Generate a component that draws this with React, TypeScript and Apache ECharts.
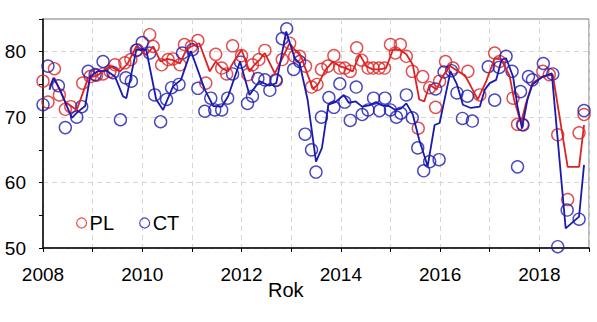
import React, { useEffect, useRef } from "react";
import * as echarts from "echarts";

// Monthly observations (decimal year, value)
const plPoints: [number, number][] = [
  [2008.0, 75.5], [2008.1, 72.3], [2008.23, 77.4], [2008.33, 73.4], [2008.45, 71.2], [2008.56, 71.6],
  [2008.8, 75.2], [2008.95, 76.2], [2009.08, 76.4], [2009.21, 76.6], [2009.35, 77.0], [2009.45, 78.0],
  [2009.65, 78.3], [2009.77, 78.8], [2009.9, 80.3], [2010.15, 82.6], [2010.22, 80.8], [2010.39, 78.0],
  [2010.52, 78.8], [2010.62, 78.9], [2010.76, 78.0], [2010.85, 81.1], [2010.99, 80.8], [2011.12, 81.7],
  [2011.28, 75.2], [2011.48, 79.6], [2011.6, 77.5], [2011.7, 76.6], [2011.82, 80.9], [2012.0, 79.4],
  [2012.13, 76.5], [2012.22, 78.0], [2012.35, 78.8], [2012.47, 80.2], [2012.69, 75.7], [2012.82, 78.8],
  [2012.97, 81.3], [2013.07, 79.3], [2013.17, 79.3], [2013.29, 77.8], [2013.41, 74.6], [2013.52, 75.0],
  [2013.61, 77.3], [2013.74, 77.8], [2013.86, 79.4], [2013.98, 77.5], [2014.08, 77.5], [2014.19, 77.0],
  [2014.32, 80.6], [2014.42, 78.7], [2014.55, 77.5], [2014.65, 77.5], [2014.77, 77.5], [2014.88, 77.5],
  [2015.0, 81.1], [2015.1, 79.8], [2015.2, 81.1], [2015.32, 79.3], [2015.44, 77.0], [2015.56, 68.3],
  [2015.65, 76.2], [2015.79, 74.5], [2015.91, 71.5], [2015.99, 75.5], [2016.11, 78.5], [2016.26, 77.5],
  [2016.56, 77.0], [2016.8, 73.4], [2017.1, 79.8], [2017.2, 78.5], [2017.47, 72.9], [2017.56, 68.9],
  [2017.66, 68.9], [2018.07, 77.0], [2018.2, 76.5], [2018.37, 67.3], [2018.57, 57.4], [2018.8, 67.6],
  [2018.9, 70.4],
];

const ctPoints: [number, number][] = [
  [2008.0, 71.9], [2008.1, 77.8], [2008.31, 74.8], [2008.45, 68.4], [2008.68, 70.0], [2008.78, 71.6],
  [2008.91, 77.0], [2009.05, 76.5], [2009.21, 78.5], [2009.41, 76.8], [2009.56, 69.6], [2009.67, 76.0],
  [2009.78, 75.5], [2009.88, 80.2], [2010.0, 81.4], [2010.15, 79.8], [2010.25, 73.4], [2010.37, 69.3],
  [2010.49, 72.7], [2010.59, 74.5], [2010.74, 75.0], [2010.81, 79.8], [2011.01, 80.3], [2011.12, 74.4],
  [2011.26, 70.9], [2011.38, 72.9], [2011.46, 71.1], [2011.6, 71.1], [2011.72, 72.9], [2011.82, 76.6],
  [2011.98, 78.4], [2012.12, 72.1], [2012.22, 73.2], [2012.33, 75.9], [2012.47, 75.7], [2012.57, 74.1],
  [2012.7, 75.6], [2012.82, 82.0], [2012.91, 83.5], [2013.05, 77.3], [2013.17, 78.5], [2013.28, 67.4],
  [2013.41, 65.0], [2013.5, 61.6], [2013.61, 70.0], [2013.76, 73.0], [2013.86, 71.5], [2013.98, 75.1],
  [2014.08, 72.3], [2014.19, 69.5], [2014.31, 74.6], [2014.43, 70.4], [2014.55, 71.1], [2014.66, 72.9],
  [2014.78, 71.0], [2014.89, 72.9], [2015.0, 71.1], [2015.12, 70.0], [2015.21, 70.6], [2015.32, 73.4],
  [2015.44, 69.9], [2015.55, 65.3], [2015.67, 61.8], [2015.79, 63.2], [2015.91, 74.3], [2015.98, 63.5],
  [2016.08, 76.9], [2016.23, 77.1], [2016.34, 73.7], [2016.45, 69.8], [2016.55, 73.2], [2016.65, 69.4],
  [2016.97, 77.7], [2017.1, 72.6], [2017.19, 77.6], [2017.33, 79.3], [2017.45, 77.0], [2017.56, 62.4],
  [2017.62, 73.9], [2017.67, 68.8], [2017.78, 76.2], [2017.86, 75.7], [2018.08, 78.2], [2018.27, 76.6],
  [2018.37, 50.2], [2018.56, 55.8], [2018.8, 54.4], [2018.9, 71.0],
];

// Smoothed trend lines (decimal year, value)
const plTrend: [number, number][] = [
  [2008.13, 74.7], [2008.23, 76.0], [2008.45, 72.3], [2008.68, 71.1], [2008.91, 76.0], [2009.1, 76.4],
  [2009.35, 77.8], [2009.55, 77.0], [2009.7, 78.1], [2009.88, 80.8], [2010.08, 79.5], [2010.22, 80.8],
  [2010.37, 78.5], [2010.5, 78.9], [2010.62, 78.7], [2010.76, 78.2], [2010.9, 80.5], [2010.99, 80.8],
  [2011.15, 81.3], [2011.36, 77.0], [2011.48, 78.5], [2011.6, 77.5], [2011.73, 77.0], [2011.83, 78.3],
  [2012.0, 80.3], [2012.16, 77.0], [2012.26, 78.0], [2012.37, 78.8], [2012.47, 79.8], [2012.67, 76.7],
  [2012.82, 79.0], [2012.97, 81.3], [2013.07, 80.3], [2013.2, 79.3], [2013.33, 76.5], [2013.44, 74.3],
  [2013.54, 75.0], [2013.7, 77.3], [2013.84, 78.5], [2013.97, 77.8], [2014.1, 77.5], [2014.24, 77.0],
  [2014.38, 79.6], [2014.51, 77.8], [2014.64, 77.3], [2014.78, 77.3], [2014.91, 77.5], [2015.05, 80.3],
  [2015.18, 80.3], [2015.32, 79.6], [2015.45, 78.0], [2015.58, 72.7], [2015.68, 72.4], [2015.79, 75.0],
  [2015.93, 74.2], [2016.03, 76.0], [2016.2, 77.8], [2016.36, 77.0], [2016.5, 76.4], [2016.62, 74.7],
  [2016.76, 72.7], [2016.93, 75.5], [2017.1, 79.0], [2017.24, 78.8], [2017.4, 76.3], [2017.49, 72.7],
  [2017.63, 69.1], [2017.73, 72.1], [2017.86, 75.2], [2018.07, 76.2], [2018.27, 76.5], [2018.57, 62.4],
  [2018.8, 62.4], [2018.9, 68.8],
];

const ctTrend: [number, number][] = [
  [2008.13, 74.2], [2008.21, 76.0], [2008.34, 74.2], [2008.58, 69.9], [2008.7, 70.8], [2008.85, 71.7],
  [2008.95, 76.2], [2009.1, 77.0], [2009.28, 77.1], [2009.45, 76.2], [2009.61, 73.2], [2009.68, 72.9],
  [2009.88, 80.3], [2010.08, 80.3], [2010.28, 72.7], [2010.42, 71.1], [2010.62, 74.7], [2010.78, 75.7],
  [2010.98, 80.1], [2011.26, 74.2], [2011.43, 71.7], [2011.6, 71.6], [2011.73, 73.2], [2011.97, 78.5],
  [2012.16, 73.4], [2012.36, 75.5], [2012.56, 74.8], [2012.7, 75.2], [2012.9, 83.1], [2013.07, 79.0],
  [2013.17, 78.2], [2013.33, 72.7], [2013.5, 63.2], [2013.62, 65.3], [2013.75, 71.9], [2013.89, 72.3],
  [2014.06, 73.4], [2014.16, 72.2], [2014.3, 72.4], [2014.43, 71.6], [2014.57, 71.8], [2014.71, 72.3],
  [2014.84, 71.8], [2014.97, 71.7], [2015.1, 71.1], [2015.21, 71.3], [2015.32, 72.1], [2015.45, 70.4],
  [2015.58, 66.5], [2015.75, 62.5], [2015.89, 68.8], [2015.99, 69.1], [2016.21, 77.0], [2016.34, 75.0],
  [2016.46, 71.9], [2016.62, 71.4], [2016.8, 71.6], [2016.9, 74.2], [2017.0, 75.2], [2017.13, 75.7],
  [2017.24, 78.8], [2017.33, 79.0], [2017.47, 76.2], [2017.56, 71.6], [2017.65, 68.3], [2017.76, 72.7],
  [2017.86, 75.0], [2018.07, 76.2], [2018.25, 76.7], [2018.53, 53.0], [2018.8, 54.8], [2018.9, 62.7],
];

const seriesNames = ["PL", "CT"];
const xRange = [2008, 2019];
const yRange = [50, 85];

const RED = "#dc2222";
const BLUE = "#1a1ab0";
const FONT = "'Liberation Sans', Arial, sans-serif";

export default function App() {
  const ref = useRef<HTMLDivElement>(null);
  useEffect(() => {
    if (!ref.current) return;
    const chart = echarts.init(ref.current, null, { renderer: "svg" });
    const scatterStyle = (c: string) => ({
      type: "scatter" as const,
      symbol: "circle",
      symbolSize: 12,
      itemStyle: { color: "rgba(255,255,255,0)", borderColor: c, borderWidth: 1.4 },
      z: 2,
    });
    const lineStyle = (c: string) => ({
      type: "line" as const,
      showSymbol: false,
      symbol: "none",
      lineStyle: { color: c, width: 1.8 },
      z: 3,
      silent: true,
    });
    chart.setOption({
      animation: false,
      backgroundColor: "#fff",
      grid: { left: 43, right: 8, top: 19, bottom: 74, show: true, borderColor: "#777", borderWidth: 1 },
      legend: {
        left: 71,
        top: 208,
        itemGap: 25,
        itemWidth: 10,
        itemHeight: 10,
        data: [
          { name: seriesNames[0], icon: "circle", itemStyle: { color: "rgba(255,255,255,0)", borderColor: RED, borderWidth: 1.2 } },
          { name: seriesNames[1], icon: "circle", itemStyle: { color: "rgba(255,255,255,0)", borderColor: BLUE, borderWidth: 1.2 } },
        ],
        textStyle: { fontFamily: FONT, fontSize: 20, color: "#000", padding: [0, 0, 0, -2] },
      },
      xAxis: {
        type: "value",
        min: xRange[0],
        max: xRange[1],
        interval: 1,
        axisLine: { show: true, onZero: false, lineStyle: { color: "#000", width: 1.5 } },
        axisTick: { show: true, inside: false, length: 4, lineStyle: { color: "#000" } },
        axisLabel: {
          margin: 17,
          fontFamily: FONT,
          fontSize: 19,
          color: "#000",
          formatter: (v: number) => (Math.round(v) % 2 === 0 && v < 2019 ? String(Math.round(v)) : ""),
        },
        splitLine: { show: true, lineStyle: { color: "#d6d6d6", type: [5, 4], width: 1 } },
      },
      yAxis: {
        type: "value",
        min: yRange[0],
        max: yRange[1],
        interval: 5,
        axisLine: { show: true, onZero: false, lineStyle: { color: "#000", width: 1.5 } },
        axisTick: { show: true, inside: false, length: 4, lineStyle: { color: "#000" } },
        axisLabel: {
          margin: 17,
          fontFamily: FONT,
          fontSize: 19,
          color: "#000",
          formatter: (v: number) => (v % 10 === 0 ? String(v) : ""),
        },
        splitLine: {
          show: true,
          lineStyle: { color: ["#d6d6d6", "rgba(0,0,0,0)"], type: [5, 4], width: 1 },
        },
      },
      graphic: [
        {
          type: "text",
          left: 268,
          top: 280,
          style: { text: "Rok", font: `20px ${FONT}`, fill: "#000" },
        },
      ],
      series: [
        { ...scatterStyle(RED), name: seriesNames[0], data: plPoints },
        { ...lineStyle(RED), name: "PL trend", data: plTrend },
        { ...scatterStyle(BLUE), name: seriesNames[1], data: ctPoints },
        { ...lineStyle(BLUE), name: "CT trend", data: ctTrend },
      ],
    });
    return () => chart.dispose();
  }, []);
  return (
    <div
      ref={ref}
      style={{ position: "fixed", left: 0, top: 0, width: 597, height: 322, background: "#fff" }}
    />
  );
}
